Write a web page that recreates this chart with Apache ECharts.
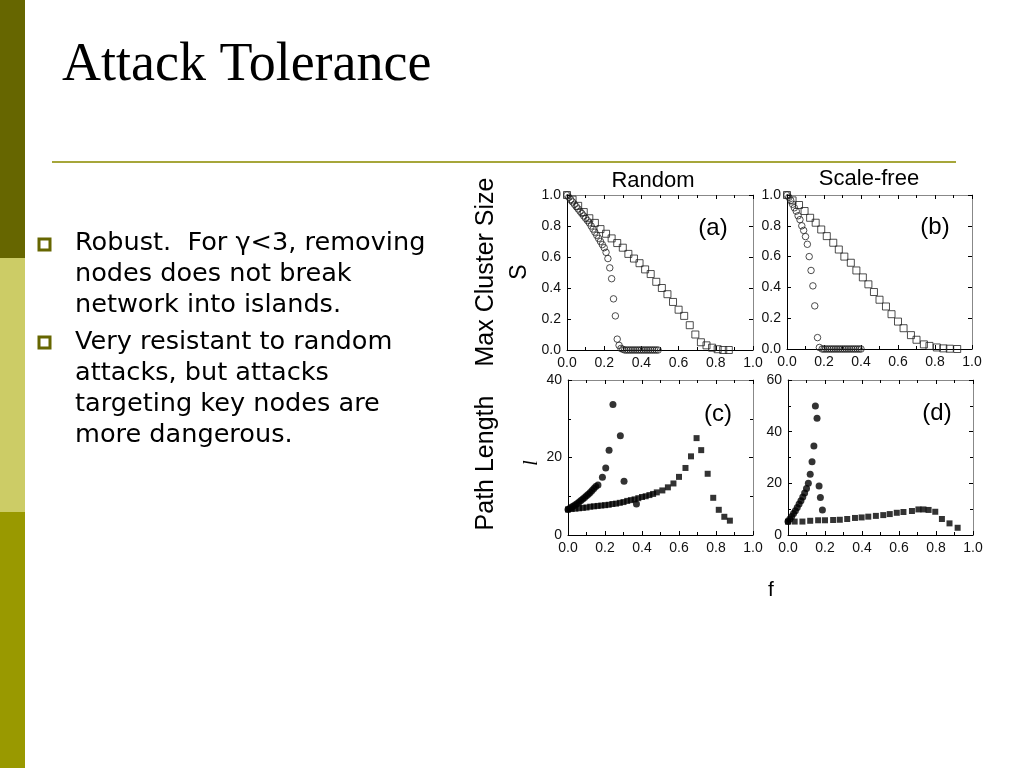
<!DOCTYPE html>
<html>
<head>
<meta charset="utf-8">
<style>
html,body{margin:0;padding:0;background:#fff;}
#chart{width:1024px;height:768px;}
</style>
<script src="https://cdn.jsdelivr.net/npm/echarts@6/dist/echarts.min.js"></script>
</head>
<body>
<div id="chart"></div>
<script>
// ---------- data ----------
const panelTitles = ["Random", "Scale-free"];
const panelLetters = ["(a)", "(b)", "(c)", "(d)"];
const bulletLines1 = ["Robust.  For \u03b3<3, removing", "nodes does not break", "network into islands."];
const bulletLines2 = ["Very resistant to random", "attacks, but attacks", "targeting key nodes are", "more dangerous."];

// (a) Random network, max cluster size S
const aFailF = [0,0.03,0.06,0.09,0.12,0.15,0.18,0.21,0.24,0.27,0.30,0.33,0.36,0.39,0.42,0.45,0.48,0.51,0.54,0.57,0.60,0.63,0.66,0.69,0.72,0.75,0.78,0.81,0.84,0.87];
const aFailS = [1.0,0.97,0.93,0.89,0.85,0.82,0.78,0.75,0.72,0.69,0.66,0.62,0.59,0.56,0.52,0.49,0.44,0.40,0.36,0.31,0.26,0.22,0.16,0.10,0.05,0.03,0.015,0.005,0.0,0.0];
const aAttF = [0,0.01,0.02,0.03,0.04,0.05,0.06,0.07,0.08,0.09,0.10,0.11,0.12,0.13,0.14,0.15,0.16,0.17,0.18,0.19,0.20,0.21,0.22,0.23,0.24,0.25,0.26,0.27,0.28,0.29,0.30,0.31,0.32,0.33,0.34,0.35,0.36,0.37,0.38,0.39,0.40,0.41,0.42,0.43,0.44,0.45,0.46,0.47,0.48,0.49];
const aAttS = [1.0,0.985,0.97,0.955,0.94,0.925,0.91,0.895,0.88,0.865,0.85,0.835,0.82,0.80,0.78,0.76,0.74,0.72,0.70,0.68,0.66,0.63,0.59,0.53,0.46,0.33,0.22,0.07,0.03,0.01,0.005,0,0,0,0,0,0,0,0,0,0,0,0,0,0,0,0,0,0,0];

// (b) Scale-free network, max cluster size S
const bFailF = [0,0.03,0.065,0.095,0.125,0.155,0.185,0.215,0.25,0.28,0.31,0.345,0.375,0.41,0.44,0.47,0.50,0.535,0.565,0.60,0.63,0.67,0.70,0.74,0.77,0.81,0.845,0.88,0.92];
const bFailS = [1.0,0.965,0.935,0.896,0.852,0.82,0.776,0.733,0.69,0.646,0.60,0.56,0.51,0.465,0.42,0.37,0.32,0.276,0.226,0.178,0.135,0.09,0.06,0.03,0.02,0.01,0.004,0.002,0.0];
const bAttF = [0,0.01,0.02,0.03,0.04,0.05,0.06,0.07,0.08,0.09,0.10,0.11,0.12,0.13,0.14,0.15,0.165,0.175,0.19,0.20,0.21,0.22,0.23,0.24,0.25,0.26,0.27,0.28,0.29,0.30,0.31,0.32,0.33,0.34,0.35,0.36,0.37,0.38,0.39,0.40];
const bAttS = [1.0,0.985,0.965,0.94,0.917,0.895,0.865,0.84,0.80,0.77,0.73,0.68,0.60,0.51,0.41,0.28,0.074,0.01,0,0,0,0,0,0,0,0,0,0,0,0,0,0,0,0,0,0,0,0,0,0];

// (c) Random network, path length l
const cFailF = [0,0.02,0.04,0.06,0.08,0.10,0.12,0.14,0.16,0.18,0.20,0.22,0.24,0.26,0.28,0.30,0.32,0.34,0.36,0.38,0.40,0.42,0.44,0.46,0.48,0.51,0.54,0.57,0.60,0.635,0.665,0.695,0.72,0.755,0.785,0.815,0.845,0.875];
const cFailL = [6.6,6.7,6.8,6.9,7.0,7.1,7.3,7.4,7.5,7.6,7.7,7.8,8.0,8.1,8.3,8.5,8.8,9.0,9.2,9.5,9.8,10.0,10.3,10.6,11.0,11.5,12.3,13.3,15.0,17.3,20.3,25.0,21.9,15.8,9.6,6.5,4.7,3.7];
const cAttF = [0,0.01,0.02,0.03,0.04,0.05,0.06,0.07,0.08,0.09,0.10,0.11,0.12,0.13,0.14,0.15,0.162,0.186,0.204,0.222,0.243,0.283,0.303,0.37];
const cAttL = [6.6,6.9,7.2,7.5,7.8,8.1,8.5,8.9,9.3,9.7,10.1,10.5,11.0,11.5,12.0,12.5,12.9,14.9,17.3,21.9,33.7,25.6,13.9,8.0];

// (d) Scale-free network, path length l
const dFailF = [0,0.036,0.078,0.12,0.163,0.2,0.244,0.28,0.32,0.362,0.398,0.434,0.475,0.515,0.55,0.588,0.624,0.67,0.705,0.732,0.76,0.796,0.832,0.873,0.917];
const dFailL = [5.2,5.2,5.2,5.5,5.7,5.7,5.8,5.9,6.2,6.6,6.8,7.1,7.4,7.7,8.1,8.6,8.9,9.3,9.9,9.9,9.7,9.0,6.2,4.5,2.8];
const dAttF = [0,0.01,0.02,0.03,0.04,0.05,0.06,0.07,0.08,0.09,0.10,0.11,0.12,0.13,0.14,0.148,0.157,0.168,0.175,0.186];
const dAttL = [5.2,6.2,7.2,8.3,9.4,10.6,12.0,13.3,14.7,16.3,18.0,20.0,23.5,28.4,34.5,49.9,45.2,19.0,14.5,9.7];

// ---------- build ----------
const zip = (xs, ys) => xs.map((x, i) => [x, ys[i]]);
const grids = [
  {left: 567, top: 195, width: 186, height: 155},
  {left: 787, top: 195, width: 185, height: 154},
  {left: 568, top: 380, width: 185, height: 155},
  {left: 788, top: 380, width: 185, height: 155}
];
const yRanges = [
  {max: 1, interval: 0.2, minor: 0, fmt: v => v.toFixed(1)},
  {max: 1, interval: 0.2, minor: 0, fmt: v => v.toFixed(1)},
  {max: 40, interval: 20, minor: 2, fmt: v => String(v)},
  {max: 60, interval: 20, minor: 2, fmt: v => String(v)}
];
const labelFont = {color: '#111', fontSize: 14, fontFamily: 'Liberation Sans, Arial, sans-serif'};
const xAxes = [], yAxes = [];
grids.forEach((g, i) => {
  const tickIn = {show: true, inside: true, length: 4, lineStyle: {color: '#000', width: 1}};
  const minorIn = {show: true, splitNumber: 2, length: 3, lineStyle: {color: '#000', width: 1}};
  xAxes.push({gridIndex: i, type: 'value', min: 0, max: 1, interval: 0.2, position: 'bottom',
    axisLine: {show: true, lineStyle: {color: '#000', width: 1}},
    axisTick: tickIn, minorTick: minorIn, splitLine: {show: false},
    axisLabel: Object.assign({show: true, margin: 6, formatter: v => v.toFixed(1), showMinLabel: true, showMaxLabel: true}, labelFont)});
  xAxes.push({gridIndex: i, type: 'value', min: 0, max: 1, interval: 0.2, position: 'top',
    axisLine: {show: true, onZero: false, lineStyle: {color: '#888', width: 1}},
    axisTick: tickIn, minorTick: minorIn, splitLine: {show: false}, axisLabel: {show: false}});
  const yr = yRanges[i];
  const yMinor = yr.minor ? {show: true, splitNumber: yr.minor, length: 3, lineStyle: {color: '#000', width: 1}} : {show: false};
  yAxes.push({gridIndex: i, type: 'value', min: 0, max: yr.max, interval: yr.interval, position: 'left',
    axisLine: {show: true, onZero: false, lineStyle: {color: '#000', width: 1}},
    axisTick: tickIn, minorTick: yMinor, splitLine: {show: false},
    axisLabel: Object.assign({show: true, margin: 6, formatter: yr.fmt, showMinLabel: true, showMaxLabel: true}, labelFont)});
  yAxes.push({gridIndex: i, type: 'value', min: 0, max: yr.max, interval: yr.interval, position: 'right',
    axisLine: {show: true, onZero: false, lineStyle: {color: '#888', width: 1}},
    axisTick: tickIn, minorTick: yMinor, splitLine: {show: false}, axisLabel: {show: false}});
});

const hollow = {color: 'rgba(0,0,0,0)', borderColor: '#222', borderWidth: 1};
const filled = {color: '#000', borderWidth: 0};
const series = [
  {type: 'scatter', xAxisIndex: 0, yAxisIndex: 0, symbol: 'rect', symbolSize: 7, itemStyle: hollow, data: zip(aFailF, aFailS)},
  {type: 'scatter', xAxisIndex: 0, yAxisIndex: 0, symbol: 'circle', symbolSize: 6.5, itemStyle: hollow, data: zip(aAttF, aAttS)},
  {type: 'scatter', xAxisIndex: 2, yAxisIndex: 2, symbol: 'rect', symbolSize: 7, itemStyle: hollow, data: zip(bFailF, bFailS)},
  {type: 'scatter', xAxisIndex: 2, yAxisIndex: 2, symbol: 'circle', symbolSize: 6.5, itemStyle: hollow, data: zip(bAttF, bAttS)},
  {type: 'scatter', xAxisIndex: 4, yAxisIndex: 4, symbol: 'rect', symbolSize: 6, itemStyle: filled, data: zip(cFailF, cFailL)},
  {type: 'scatter', xAxisIndex: 4, yAxisIndex: 4, symbol: 'circle', symbolSize: 7, itemStyle: filled, data: zip(cAttF, cAttL)},
  {type: 'scatter', xAxisIndex: 6, yAxisIndex: 6, symbol: 'rect', symbolSize: 6, itemStyle: filled, data: zip(dFailF, dFailL)},
  {type: 'scatter', xAxisIndex: 6, yAxisIndex: 6, symbol: 'circle', symbolSize: 7, itemStyle: filled, data: zip(dAttF, dAttL)}
];

const sans = 'Liberation Sans, Arial, sans-serif';
const bodyFont = '24px "DejaVu Sans", Verdana, sans-serif';
const graphic = [
  {type: 'rect', shape: {x: 0, y: 0, width: 25, height: 258}, style: {fill: '#666600'}, silent: true},
  {type: 'rect', shape: {x: 0, y: 258, width: 25, height: 254}, style: {fill: '#cccc66'}, silent: true},
  {type: 'rect', shape: {x: 0, y: 512, width: 25, height: 256}, style: {fill: '#999900'}, silent: true},
  {type: 'text', x: 62, y: 66, style: {text: 'Attack Tolerance', font: '54px "Liberation Serif", "DejaVu Serif", serif', fill: '#000', textVerticalAlign: 'middle'}},
  {type: 'rect', shape: {x: 52, y: 161, width: 904, height: 2}, style: {fill: '#a6a63a'}},
  {type: 'rect', shape: {x: 39, y: 239, width: 11, height: 11}, style: {fill: 'none', stroke: '#666600', lineWidth: 3}},
  {type: 'rect', shape: {x: 39, y: 337, width: 11, height: 11}, style: {fill: 'none', stroke: '#666600', lineWidth: 3}}
];
bulletLines1.forEach((t, i) => graphic.push({type: 'text', x: 75, y: 244 + i * 31, scaleX: 1.065,
  style: {text: t, font: bodyFont, fill: '#000', textVerticalAlign: 'middle'}}));
bulletLines2.forEach((t, i) => graphic.push({type: 'text', x: 75, y: 343 + i * 31, scaleX: 1.065,
  style: {text: t, font: bodyFont, fill: '#000', textVerticalAlign: 'middle'}}));
graphic.push({type: 'text', x: 653, y: 181, style: {text: panelTitles[0], font: '22px ' + sans, fill: '#000', textAlign: 'center', textVerticalAlign: 'middle'}});
graphic.push({type: 'text', x: 869, y: 179, style: {text: panelTitles[1], font: '22px ' + sans, fill: '#000', textAlign: 'center', textVerticalAlign: 'middle'}});
[[713, 228], [935, 227], [718, 414], [937, 413]].forEach((p, i) => graphic.push({type: 'text', x: p[0], y: p[1],
  style: {text: panelLetters[i], font: '24px ' + sans, fill: '#000', textAlign: 'center', textVerticalAlign: 'middle'}}));
graphic.push({type: 'text', x: 486, y: 272, rotation: Math.PI / 2, style: {text: 'Max Cluster Size', font: '25px ' + sans, fill: '#000', textAlign: 'center', textVerticalAlign: 'middle'}});
graphic.push({type: 'text', x: 520, y: 272, rotation: Math.PI / 2, style: {text: 'S', font: '23px ' + sans, fill: '#000', textAlign: 'center', textVerticalAlign: 'middle'}});
graphic.push({type: 'text', x: 486, y: 463, rotation: Math.PI / 2, style: {text: 'Path Length', font: '25px ' + sans, fill: '#000', textAlign: 'center', textVerticalAlign: 'middle'}});
graphic.push({type: 'text', x: 532, y: 463, rotation: Math.PI / 2, style: {text: 'l', font: 'italic 20px "Liberation Serif", serif', fill: '#000', textAlign: 'center', textVerticalAlign: 'middle'}});
graphic.push({type: 'text', x: 771, y: 590, style: {text: 'f', font: '21px ' + sans, fill: '#000', textAlign: 'center', textVerticalAlign: 'middle'}});

const chart = echarts.init(document.getElementById('chart'), null, {renderer: 'canvas'});
chart.setOption({
  animation: false,
  backgroundColor: '#fff',
  grid: grids,
  xAxis: xAxes,
  yAxis: yAxes,
  series: series,
  graphic: graphic
});
</script>
</body>
</html>
